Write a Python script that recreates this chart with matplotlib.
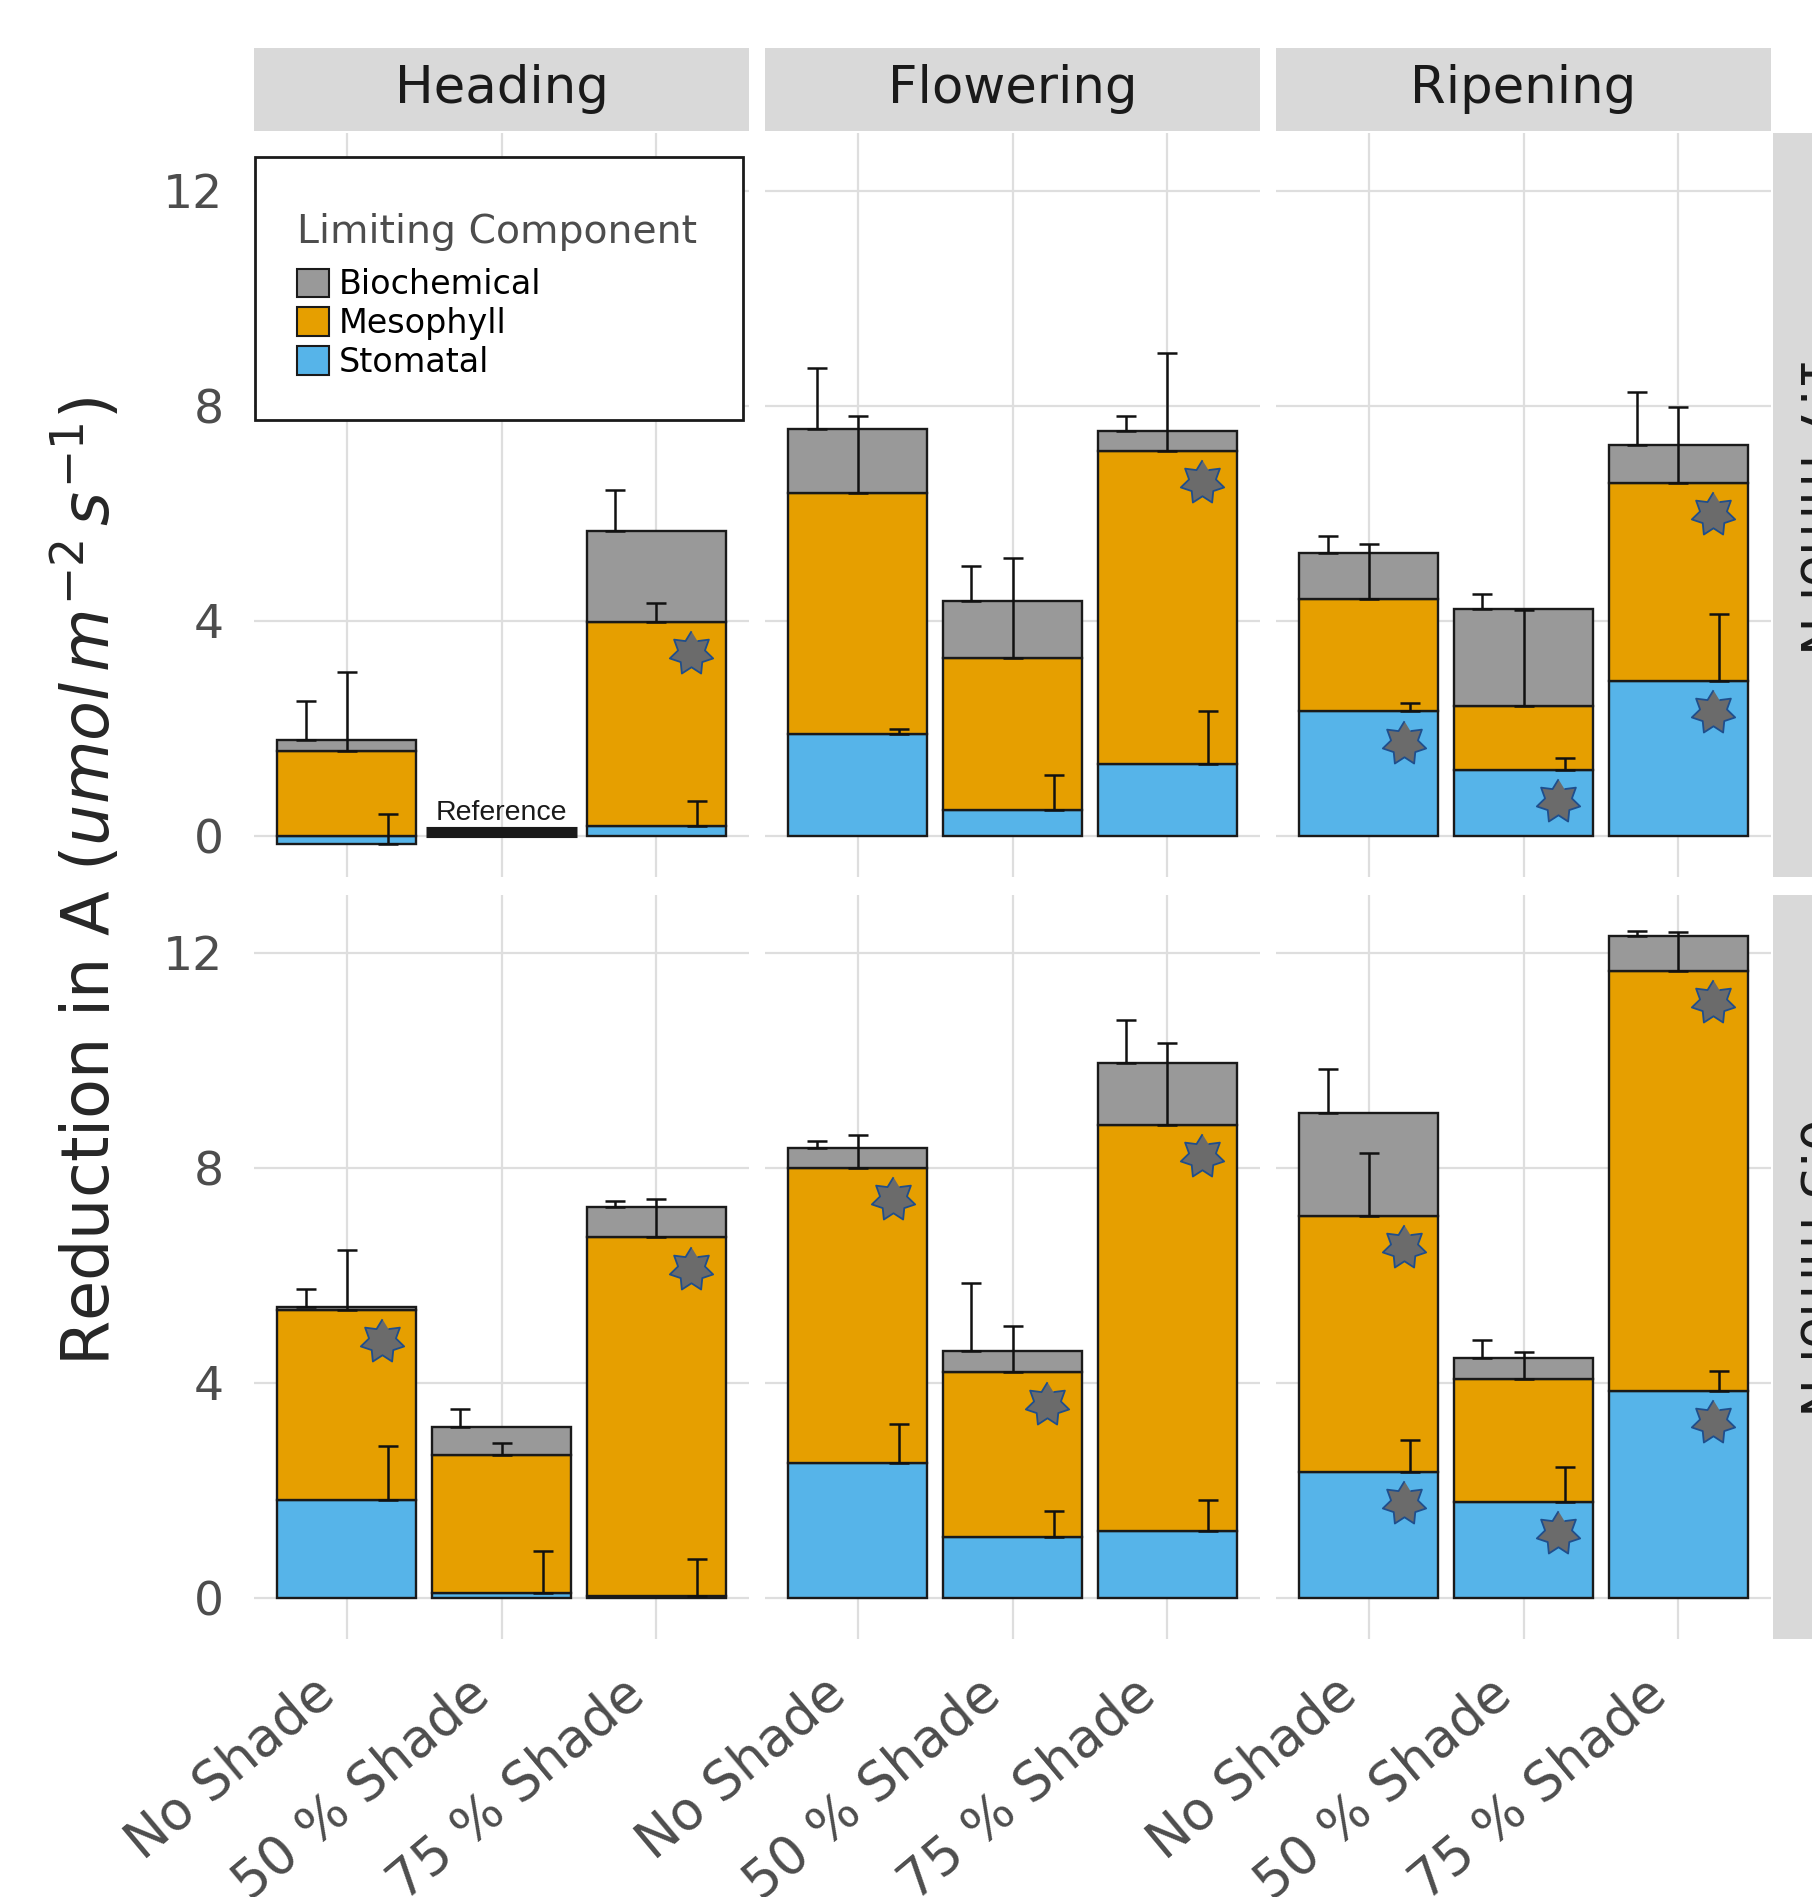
import numpy as np
import matplotlib
matplotlib.use("Agg")
import matplotlib.pyplot as plt
from matplotlib.patches import Patch, Rectangle
from matplotlib.transforms import ScaledTranslation

# Facets and categories
stages = ['Heading', 'Flowering', 'Ripening']
shades = ['No Shade', '50 % Shade', '75 % Shade']
nitrogen = ['1.7 mmol N', '0.5 mmol N']
components = ['Biochemical', 'Mesophyll', 'Stomatal']

nan = np.nan
# Reduction in A per component, order: stage x shade (9 values) for each N level
stomatal = {
    '1.7 mmol N': [-0.15, nan, 0.17, 1.89, 0.48, 1.33, 2.31, 1.22, 2.88],
    '0.5 mmol N': [1.82, 0.09, 0.03, 2.50, 1.12, 1.24, 2.34, 1.78, 3.84],
}
mesophyll = {
    '1.7 mmol N': [1.58, nan, 3.80, 4.49, 2.83, 5.83, 2.09, 1.20, 3.68],
    '0.5 mmol N': [3.53, 2.57, 6.67, 5.49, 3.07, 7.56, 4.76, 2.29, 7.82],
}
biochemical = {
    '1.7 mmol N': [0.20, nan, 1.70, 1.19, 1.06, 0.36, 0.86, 1.79, 0.71],
    '0.5 mmol N': [0.06, 0.52, 0.56, 0.37, 0.40, 1.14, 1.91, 0.38, 0.65],
}

# Standard errors
stomatal_se = {
    '1.7 mmol N': [0.55, nan, 0.48, 0.09, 0.65, 0.98, 0.16, 0.23, 1.24],
    '0.5 mmol N': [1.00, 0.78, 0.69, 0.73, 0.49, 0.58, 0.60, 0.65, 0.38],
}
mesophyll_se = {
    '1.7 mmol N': [1.46, nan, 0.35, 1.42, 1.86, 1.81, 1.02, 1.77, 1.41],
    '0.5 mmol N': [1.12, 0.21, 0.72, 0.61, 0.86, 1.51, 1.17, 0.49, 0.72],
}
biochemical_se = {
    '1.7 mmol N': [0.73, nan, 0.76, 1.12, 0.64, 0.28, 0.32, 0.28, 0.98],
    '0.5 mmol N': [0.33, 0.33, 0.11, 0.13, 1.27, 0.81, 0.83, 0.34, 0.09],
}

# Significant components (star markers)
sig_mesophyll = {
    '1.7 mmol N': [0, 0, 1, 0, 0, 1, 0, 0, 1],
    '0.5 mmol N': [1, 0, 1, 1, 1, 1, 1, 0, 1],
}
sig_stomatal = {
    '1.7 mmol N': [0, 0, 0, 0, 0, 0, 1, 1, 1],
    '0.5 mmol N': [0, 0, 0, 0, 0, 0, 1, 1, 1],
}

# Reference treatment (no bars)
reference = ('1.7 mmol N', 'Heading', '50 % Shade')

COLORS = {'Biochemical': '#999999', 'Mesophyll': '#E69F00',
          'Stomatal': '#56B4E9'}
GRID = '#DEDEDE'
STRIP = '#D9D9D9'

W, H = 1812, 1897
fig = plt.figure(figsize=(W / 100, H / 100), dpi=100)


def fx(px):
    return px / W


def fy(py):
    return 1 - py / H


# 7-point star marker
ang = np.pi / 2 + np.arange(14) * np.pi / 7
rad = np.where(np.arange(14) % 2 == 0, 1.0, 0.62)
STAR = list(zip(rad * np.cos(ang), rad * np.sin(ang)))

panel_left = [254, 765, 1276]
panel_w = 495
row_top = [133, 895]
panel_h = 744
bar_w = 0.9
dodge = 0.8 / 3
star_dx = 0.225
star_dy = 0.58
label_shift = ScaledTranslation(-2 / 100, 0, fig.dpi_scale_trans)

for r, nlev in enumerate(nitrogen):
    for c, stage in enumerate(stages):
        left = panel_left[c]
        top = row_top[r]
        ax = fig.add_axes([fx(left), fy(top + panel_h), fx(panel_w),
                           panel_h / H])
        ax.set_xlim(0.4, 3.6)
        ax.set_ylim(-0.77, 13.07)
        ax.set_xticks([1, 2, 3])
        ax.set_yticks([0, 4, 8, 12])
        ax.grid(True, color=GRID, lw=1.6, zorder=0)
        ax.set_axisbelow(True)
        for sp in ax.spines.values():
            sp.set_visible(False)
        ax.tick_params(length=0, labelsize=34, colors='#4D4D4D', pad=22)
        if c == 0:
            ax.set_yticklabels(['0', '4', '8', '12'])
        else:
            ax.set_yticklabels([])
        if r == 1:
            ax.set_xticklabels(shades, rotation=40, ha='right', va='top',
                               fontsize=38)
            ax.tick_params(axis='x', pad=20.5)
            for lab in ax.get_xticklabels():
                lab.set_transform(lab.get_transform() + label_shift)
        else:
            ax.set_xticklabels([])

        for k, shade in enumerate(shades):
            i = c * 3 + k
            x = k + 1
            st = stomatal[nlev][i]
            me = mesophyll[nlev][i]
            bi = biochemical[nlev][i]
            if (nlev, stage, shade) == reference:
                ax.plot([x - 0.49, x + 0.49], [0.07, 0.07], color='#1A1A1A',
                        lw=8, solid_capstyle='butt', zorder=3)
                ax.text(x, 0.18, 'Reference', ha='center', va='bottom',
                        fontsize=20.5, family='Liberation Sans',
                        color='#1A1A1A', zorder=4)
                continue
            base = max(st, 0)
            kw = dict(width=bar_w, edgecolor='#1A1A1A', linewidth=1.7,
                      zorder=2)
            ax.bar(x, st, bottom=0, color=COLORS['Stomatal'], **kw)
            ax.bar(x, me, bottom=base, color=COLORS['Mesophyll'], **kw)
            ax.bar(x, bi, bottom=base + me, color=COLORS['Biochemical'], **kw)

            # error bars: start at each segment top
            eb = [(x - dodge, base + me + bi, biochemical_se[nlev][i]),
                  (x, base + me, mesophyll_se[nlev][i]),
                  (x + dodge, st, stomatal_se[nlev][i])]
            for ex, ey, err in eb:
                ax.errorbar(ex, ey, yerr=[[0], [err]], fmt='none',
                            ecolor='#111111', elinewidth=1.8, capsize=7.5,
                            capthick=1.8, zorder=5)

            if sig_mesophyll[nlev][i]:
                ax.plot(x + star_dx, base + me - star_dy, marker=STAR,
                        ms=32, mfc='#6B6B6B', mec='#1F4E8C', mew=1.3,
                        zorder=6)
            if sig_stomatal[nlev][i]:
                ax.plot(x + star_dx, st - star_dy, marker=STAR,
                        ms=32, mfc='#6B6B6B', mec='#1F4E8C', mew=1.3,
                        zorder=6)

        if r == 0 and c == 0:
            # legend frame
            box = Rectangle((fx(255), fy(420)), fx(743 - 255), (420 - 157) / H,
                            transform=fig.transFigure, facecolor='white',
                            edgecolor='#1A1A1A', lw=2, zorder=9)
            fig.add_artist(box)
            handles = [Patch(facecolor=COLORS[n], edgecolor='#1A1A1A',
                             linewidth=1.5) for n in components]
            leg = fig.legend(handles, components, title='Limiting Component',
                             loc='upper left',
                             bbox_to_anchor=(fx(297), fy(213)),
                             fontsize=24, title_fontsize=28.4,
                             frameon=False, borderpad=0, handlelength=0.95,
                             handleheight=0.95, handletextpad=0.3,
                             labelspacing=0.17, borderaxespad=0)
            leg.get_title().set_color('#4D4D4D')
            leg._legend_box.align = 'left'
            leg._legend_box.sep = 12.5
            leg.set_zorder(10)

        # top strips
        if r == 0:
            sax = fig.add_axes([fx(left), fy(131), fx(panel_w), 83 / H])
            sax.set_facecolor(STRIP)
            sax.set_xticks([])
            sax.set_yticks([])
            for sp in sax.spines.values():
                sp.set_visible(False)
            sax.text(0.5, 0.5, stage, ha='center', va='center', fontsize=37,
                     color='#1A1A1A', transform=sax.transAxes)

    # right strips
    rax = fig.add_axes([fx(1773), fy(row_top[r] + panel_h), fx(83),
                        panel_h / H])
    rax.set_facecolor(STRIP)
    rax.set_xticks([])
    rax.set_yticks([])
    for sp in rax.spines.values():
        sp.set_visible(False)
    rax.text(0.5, 0.5, nlev, ha='center', va='center', rotation=270,
             fontsize=37, color='#1A1A1A', transform=rax.transAxes)

fig.text(fx(87), fy(882), r'Reduction in A $(umol\,m^{-2}\,s^{-1})$',
         rotation=90, ha='center', va='center', fontsize=47, color='#262626')

fig.savefig('out.png', dpi=100, facecolor='white')
